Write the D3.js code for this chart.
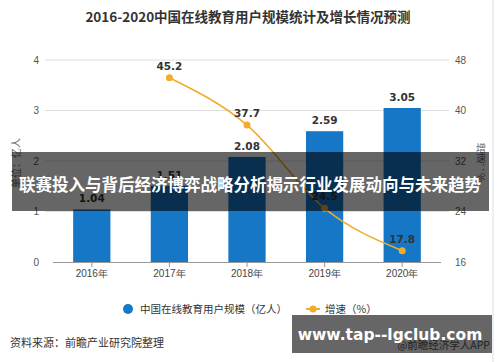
<!DOCTYPE html>
<html>
<head>
<meta charset="utf-8">
<script src="https://cdn.jsdelivr.net/npm/d3@7/dist/d3.min.js"></script>
<style>
  body { margin: 0; background: #fff; }
  svg { display: block; font-family: "Noto Sans CJK SC", "Noto Sans", sans-serif; }
</style>
</head>
<body>
<div id="chart"></div>
<script>
// data
const years = ['2016年', '2017年', '2018年', '2019年', '2020年'];
const users = [1.04, 1.51, 2.08, 2.59, 3.05];
const growth = [null, 45.2, 37.7, 24.5, 17.8];
const leftTicks = [0, 1, 2, 3, 4];
const rightTicks = [16, 24, 32, 40, 48];

const W = 500, H = 362;
const blue = '#1577c6';
const orange = '#f0ac2a';

const svg = d3.select('#chart').append('svg')
  .attr('width', W)
  .attr('height', H);

// scales
const x = d3.scaleBand().domain(years).range([53, 441]).paddingInner(0.52).paddingOuter(0.26);
const yL = d3.scaleLinear().domain([0, 4]).range([262, 60]);
const yR = d3.scaleLinear().domain([16, 48]).range([262, 60]);
const cx = d => x(d) + x.bandwidth() / 2;

// right edge line
svg.append('line')
  .attr('x1', 493).attr('x2', 493).attr('y1', 0).attr('y2', H)
  .attr('stroke', '#e4eaf1').attr('stroke-width', 1.5);

// title
svg.append('text')
  .attr('x', 248).attr('y', 22)
  .attr('text-anchor', 'middle')
  .attr('font-size', 13.5).attr('font-weight', 'bold')
  .attr('fill', '#333')
  .text('2016-2020中国在线教育用户规模统计及增长情况预测');

// grid
svg.append('g').selectAll('line')
  .data(leftTicks.slice(1))
  .join('line')
  .attr('x1', 45).attr('x2', 449)
  .attr('y1', d => yL(d)).attr('y2', d => yL(d))
  .attr('stroke', '#dedede');

// left axis
const axL = svg.append('g')
  .attr('transform', 'translate(45,0)')
  .call(d3.axisLeft(yL).tickValues(leftTicks).tickFormat(d3.format('d')).tickSize(0).tickPadding(6));
axL.select('.domain').remove();
axL.selectAll('text').attr('font-size', 10).attr('fill', '#555').attr('font-family', 'Liberation Sans, sans-serif');

// right axis
const axR = svg.append('g')
  .attr('transform', 'translate(449,0)')
  .call(d3.axisRight(yR).tickValues(rightTicks).tickFormat(d3.format('d')).tickSize(0).tickPadding(6));
axR.select('.domain').remove();
axR.selectAll('text').attr('font-size', 10).attr('fill', '#555').attr('font-family', 'Liberation Sans, sans-serif');

// axis titles
svg.append('text')
  .attr('transform', 'translate(20,163) rotate(-90)')
  .attr('text-anchor', 'middle')
  .attr('font-size', 10).attr('fill', '#666')
  .text('单位：亿人');
svg.append('text')
  .attr('x', 481).attr('y', 143)
  .attr('writing-mode', 'vertical-rl')
  .attr('text-orientation', 'upright')
  .attr('font-size', 10).attr('fill', '#666')
  .text('增速：%');

// bars
svg.append('g').selectAll('rect')
  .data(years)
  .join('rect')
  .attr('x', d => x(d))
  .attr('width', x.bandwidth())
  .attr('y', (d, i) => yL(users[i]))
  .attr('height', (d, i) => yL(0) - yL(users[i]))
  .attr('fill', blue);

svg.append('g').selectAll('text')
  .data(years)
  .join('text')
  .attr('x', d => cx(d))
  .attr('y', (d, i) => yL(users[i]) - 7)
  .attr('text-anchor', 'middle')
  .attr('font-size', 10.5).attr('font-weight', 'bold')
  .attr('fill', '#333')
  .attr('font-family', 'DejaVu Sans, sans-serif')
  .text((d, i) => users[i].toFixed(2));

// x axis
const axX = svg.append('g')
  .attr('transform', 'translate(0,262)')
  .call(d3.axisBottom(x).tickSize(5).tickPadding(3));
axX.select('.domain').attr('stroke', '#999').attr('d', 'M53,0.5H441');
axX.selectAll('.tick line').attr('stroke', '#999');
axX.selectAll('text').attr('font-size', 10).attr('fill', '#444');

// growth line
const pts = years.map((d, i) => ({ year: d, v: growth[i] })).filter(d => d.v != null);
const line = d3.line()
  .x(d => cx(d.year))
  .y(d => yR(d.v))
  .curve(d3.curveMonotoneX);

svg.append('path')
  .datum(pts)
  .attr('d', line)
  .attr('fill', 'none')
  .attr('stroke', orange)
  .attr('stroke-width', 1.6);

svg.append('g').selectAll('circle')
  .data(pts)
  .join('circle')
  .attr('cx', d => cx(d.year))
  .attr('cy', d => yR(d.v))
  .attr('r', 3.5)
  .attr('fill', orange);

svg.append('g').selectAll('text')
  .data(pts)
  .join('text')
  .attr('x', d => cx(d.year))
  .attr('y', d => yR(d.v) - 8)
  .attr('text-anchor', 'middle')
  .attr('font-size', 10.5).attr('font-weight', 'bold')
  .attr('fill', '#333')
  .attr('font-family', 'DejaVu Sans, sans-serif')
  .text(d => d.v.toFixed(1));

// legend
svg.append('circle').attr('cx', 128).attr('cy', 309).attr('r', 5).attr('fill', blue);
svg.append('text').attr('x', 140).attr('y', 313)
  .attr('font-size', 10.5).attr('fill', '#333')
  .text('中国在线教育用户规模（亿人）');
svg.append('line').attr('x1', 306).attr('x2', 320).attr('y1', 309).attr('y2', 309)
  .attr('stroke', orange).attr('stroke-width', 2);
svg.append('circle').attr('cx', 313).attr('cy', 309).attr('r', 3.5).attr('fill', orange);
svg.append('text').attr('x', 325).attr('y', 313)
  .attr('font-size', 10.5).attr('fill', '#333')
  .text('增速（%）');

// source
svg.append('text').attr('x', 10).attr('y', 347)
  .attr('font-size', 11).attr('fill', '#333')
  .text('资料来源：前瞻产业研究院整理');
svg.append('text').attr('x', 490).attr('y', 349)
  .attr('text-anchor', 'end')
  .attr('font-size', 10.5).attr('fill', '#555')
  .text('@前瞻经济学人APP');

// overlay banners
svg.append('rect').attr('x', 12).attr('y', 152).attr('width', 477).attr('height', 59)
  .attr('fill', 'rgba(0,0,0,0.6)');
svg.append('text').attr('x', 250).attr('y', 191)
  .attr('text-anchor', 'middle')
  .attr('font-size', 16.5).attr('font-weight', 'bold')
  .attr('fill', '#fff')
  .text('联赛投入与背后经济博弈战略分析揭示行业发展动向与未来趋势');

svg.append('rect').attr('x', 292).attr('y', 315).attr('width', 200).attr('height', 38)
  .attr('fill', 'rgba(0,0,0,0.6)');
svg.append('text').attr('x', 390).attr('y', 340)
  .attr('text-anchor', 'middle')
  .attr('font-size', 15.5).attr('font-weight', 'bold')
  .attr('fill', '#fff')
  .attr('font-family', 'DejaVu Sans, sans-serif')
  .text('www.tap--lgclub.com');
</script>
</body>
</html>
